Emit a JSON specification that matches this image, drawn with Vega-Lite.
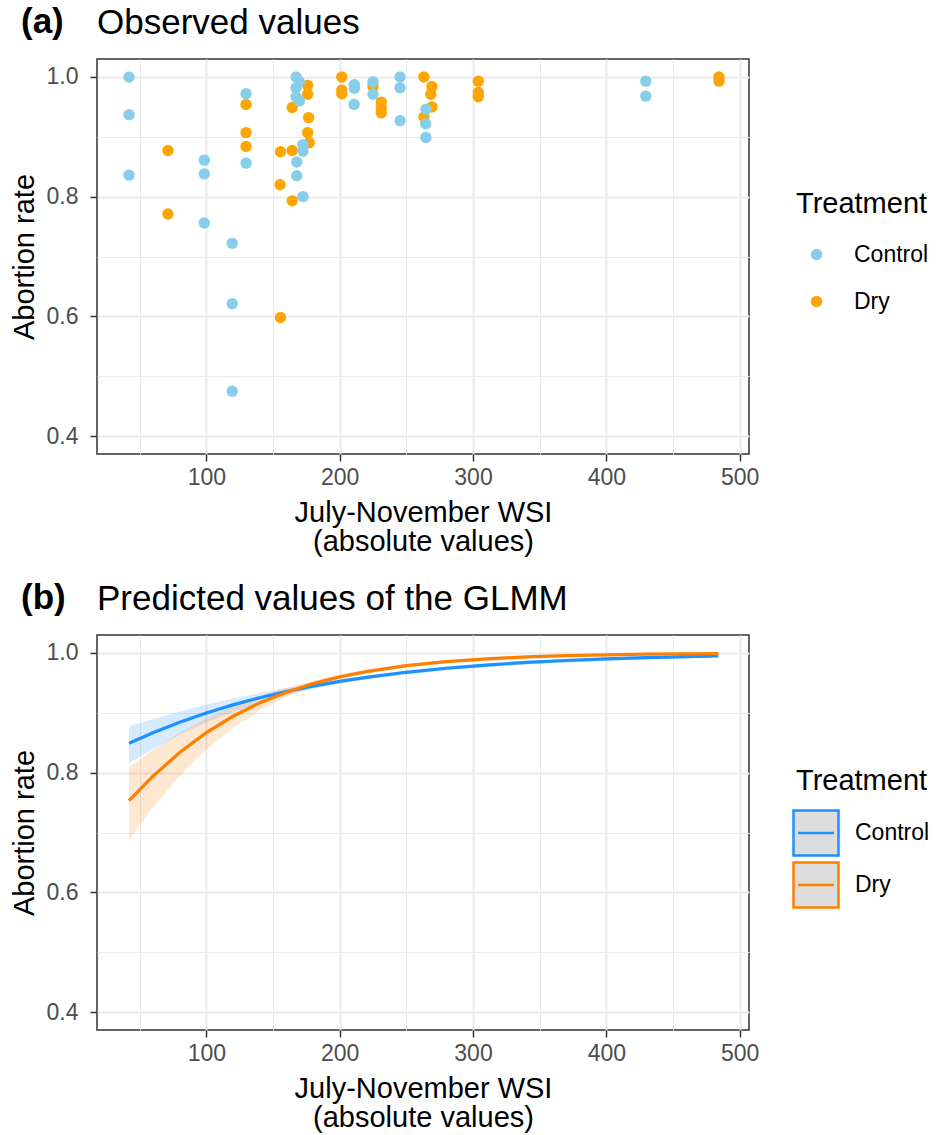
{
  "$schema": "https://vega.github.io/schema/vega-lite/v6.json",
  "padding": {"left": 9, "top": 5, "right": 5, "bottom": 5},
  "spacing": 24,
  "config": {
    "font": "Liberation Sans",
    "view": {"stroke": "#333333", "strokeWidth": 1.5},
    "axis": {
      "labelFont": "Liberation Sans",
      "labelFontSize": 23,
      "labelColor": "#4d4d4d",
      "titleFont": "Liberation Sans",
      "titleFontSize": 29,
      "titleFontWeight": "normal",
      "titleColor": "#000000",
      "tickColor": "#333333",
      "tickSize": 7,
      "tickWidth": 1.5,
      "domain": false,
      "gridColor": "#ebebeb",
      "labelFlush": false
    },
    "legend": {
      "titleFont": "Liberation Sans",
      "titleFontSize": 29,
      "titleFontWeight": "normal",
      "titleColor": "#000000",
      "labelFont": "Liberation Sans",
      "labelFontSize": 23,
      "labelColor": "#000000"
    },
    "title": {
      "font": "Liberation Sans",
      "fontSize": 35,
      "color": "#000000",
      "anchor": "start",
      "frame": "group"
    }
  },
  "resolve": {"scale": {"color": "independent"}, "legend": {"color": "independent"}},
  "vconcat": [
    {
      "title": {"text": "(a)", "fontWeight": "bold", "dx": -76, "offset": -35},
      "vconcat": [
        {
          "title": {"text": "Observed values", "fontWeight": "normal", "dx": 0, "offset": 18},
          "width": 652,
          "height": 395,
          "data": {"values": [
            {"wsi": 71.2, "rate": 0.877, "treatment": "Dry"},
            {"wsi": 71.2, "rate": 0.771, "treatment": "Dry"},
            {"wsi": 129.8, "rate": 0.954, "treatment": "Dry"},
            {"wsi": 129.8, "rate": 0.907, "treatment": "Dry"},
            {"wsi": 129.8, "rate": 0.884, "treatment": "Dry"},
            {"wsi": 155.6, "rate": 0.875, "treatment": "Dry"},
            {"wsi": 155.3, "rate": 0.82, "treatment": "Dry"},
            {"wsi": 155.6, "rate": 0.598, "treatment": "Dry"},
            {"wsi": 164.4, "rate": 0.949, "treatment": "Dry"},
            {"wsi": 164.4, "rate": 0.877, "treatment": "Dry"},
            {"wsi": 164.4, "rate": 0.793, "treatment": "Dry"},
            {"wsi": 176, "rate": 0.986, "treatment": "Dry"},
            {"wsi": 176, "rate": 0.971, "treatment": "Dry"},
            {"wsi": 176.7, "rate": 0.932, "treatment": "Dry"},
            {"wsi": 176, "rate": 0.907, "treatment": "Dry"},
            {"wsi": 177.2, "rate": 0.89, "treatment": "Dry"},
            {"wsi": 201.6, "rate": 1.0, "treatment": "Dry"},
            {"wsi": 201.6, "rate": 0.978, "treatment": "Dry"},
            {"wsi": 201.6, "rate": 0.972, "treatment": "Dry"},
            {"wsi": 225, "rate": 0.984, "treatment": "Dry"},
            {"wsi": 231.2, "rate": 0.958, "treatment": "Dry"},
            {"wsi": 231.2, "rate": 0.948, "treatment": "Dry"},
            {"wsi": 231.2, "rate": 0.94, "treatment": "Dry"},
            {"wsi": 263.2, "rate": 1.0, "treatment": "Dry"},
            {"wsi": 269.2, "rate": 0.984, "treatment": "Dry"},
            {"wsi": 268.4, "rate": 0.971, "treatment": "Dry"},
            {"wsi": 269.2, "rate": 0.95, "treatment": "Dry"},
            {"wsi": 263.2, "rate": 0.933, "treatment": "Dry"},
            {"wsi": 304, "rate": 0.993, "treatment": "Dry"},
            {"wsi": 304, "rate": 0.974, "treatment": "Dry"},
            {"wsi": 304, "rate": 0.967, "treatment": "Dry"},
            {"wsi": 484.5, "rate": 1.0, "treatment": "Dry"},
            {"wsi": 484.5, "rate": 0.993, "treatment": "Dry"},
            {"wsi": 42, "rate": 1.0, "treatment": "Control"},
            {"wsi": 42, "rate": 0.937, "treatment": "Control"},
            {"wsi": 42, "rate": 0.836, "treatment": "Control"},
            {"wsi": 98.5, "rate": 0.861, "treatment": "Control"},
            {"wsi": 98.5, "rate": 0.838, "treatment": "Control"},
            {"wsi": 98.5, "rate": 0.756, "treatment": "Control"},
            {"wsi": 119.4, "rate": 0.722, "treatment": "Control"},
            {"wsi": 119.4, "rate": 0.621, "treatment": "Control"},
            {"wsi": 119.4, "rate": 0.475, "treatment": "Control"},
            {"wsi": 129.8, "rate": 0.972, "treatment": "Control"},
            {"wsi": 129.8, "rate": 0.856, "treatment": "Control"},
            {"wsi": 167.3, "rate": 1.0, "treatment": "Control"},
            {"wsi": 169.8, "rate": 0.992, "treatment": "Control"},
            {"wsi": 167.3, "rate": 0.982, "treatment": "Control"},
            {"wsi": 167.3, "rate": 0.967, "treatment": "Control"},
            {"wsi": 169.8, "rate": 0.96, "treatment": "Control"},
            {"wsi": 167.8, "rate": 0.858, "treatment": "Control"},
            {"wsi": 167.8, "rate": 0.835, "treatment": "Control"},
            {"wsi": 172.5, "rate": 0.887, "treatment": "Control"},
            {"wsi": 172.5, "rate": 0.876, "treatment": "Control"},
            {"wsi": 172.5, "rate": 0.8, "treatment": "Control"},
            {"wsi": 211, "rate": 0.987, "treatment": "Control"},
            {"wsi": 211, "rate": 0.981, "treatment": "Control"},
            {"wsi": 210.8, "rate": 0.954, "treatment": "Control"},
            {"wsi": 225, "rate": 0.992, "treatment": "Control"},
            {"wsi": 225, "rate": 0.971, "treatment": "Control"},
            {"wsi": 245.3, "rate": 1.0, "treatment": "Control"},
            {"wsi": 245.3, "rate": 0.982, "treatment": "Control"},
            {"wsi": 245.3, "rate": 0.927, "treatment": "Control"},
            {"wsi": 264.7, "rate": 0.946, "treatment": "Control"},
            {"wsi": 264.5, "rate": 0.922, "treatment": "Control"},
            {"wsi": 264.7, "rate": 0.899, "treatment": "Control"},
            {"wsi": 429.6, "rate": 0.993, "treatment": "Control"},
            {"wsi": 429.6, "rate": 0.968, "treatment": "Control"}
          ]},
          "mark": {"type": "point", "filled": true, "size": 130, "opacity": 1},
          "encoding": {
            "x": {
              "field": "wsi", "type": "quantitative",
              "scale": {"domain": [18, 507], "nice": false, "zero": false},
              "axis": {
                "values": [50, 100, 150, 200, 250, 300, 350, 400, 450, 500],
                "labelExpr": "datum.value % 100 == 0 ? datum.label : ''",
                "gridWidth": {"condition": {"test": "datum.value % 100 == 0", "value": 2}, "value": 1},
                "tickOpacity": {"condition": {"test": "datum.value % 100 == 0", "value": 1}, "value": 0},
                "title": ["July-November WSI", "(absolute values)"],
                "titleLineHeight": 29,
                "labelPadding": 5,
                "titlePadding": 9
              }
            },
            "y": {
              "field": "rate", "type": "quantitative",
              "scale": {"domain": [0.37, 1.03], "nice": false, "zero": false},
              "axis": {
                "values": [0.4, 0.5, 0.6, 0.7, 0.8, 0.9, 1.0],
                "format": ".1f",
                "labelExpr": "round(datum.value * 10) % 2 == 1 ? '' : datum.label",
                "gridWidth": {"condition": {"test": "round(datum.value * 10) % 2 == 1", "value": 1}, "value": 2},
                "tickOpacity": {"condition": {"test": "round(datum.value * 10) % 2 == 1", "value": 0}, "value": 1},
                "title": "Abortion rate",
                "labelPadding": 12,
                "titlePadding": 7
              }
            },
            "color": {
              "field": "treatment", "type": "nominal",
              "scale": {"domain": ["Control", "Dry"], "range": ["#87CEEB", "#FFA500"]},
              "legend": {
                "title": "Treatment",
                "orient": "none",
                "legendX": 699,
                "legendY": 131,
                "symbolType": "circle",
                "symbolSize": 130,
                "rowPadding": 23,
                "titlePadding": 24,
                "symbolOffset": 9,
                "labelOffset": 26
              }
            }
          }
        }
      ]
    },
    {
      "title": {"text": "(b)", "fontWeight": "bold", "dx": -76, "offset": -35},
      "vconcat": [
        {
          "title": {"text": "Predicted values of the GLMM", "fontWeight": "normal", "dx": 0, "offset": 18},
          "width": 652,
          "height": 395,
          "data": {"values": [
            {"wsi": 42, "fit": 0.8491, "lo": 0.8156, "hi": 0.8773, "treatment": "Control"},
            {"wsi": 60, "fit": 0.8667, "lo": 0.8397, "hi": 0.8897, "treatment": "Control"},
            {"wsi": 80, "fit": 0.8842, "lo": 0.8633, "hi": 0.9022, "treatment": "Control"},
            {"wsi": 100, "fit": 0.8996, "lo": 0.8838, "hi": 0.9135, "treatment": "Control"},
            {"wsi": 120, "fit": 0.9132, "lo": 0.9015, "hi": 0.9237, "treatment": "Control"},
            {"wsi": 140, "fit": 0.9252, "lo": 0.9166, "hi": 0.9329, "treatment": "Control"},
            {"wsi": 160, "fit": 0.9356, "lo": 0.9294, "hi": 0.9413, "treatment": "Control"},
            {"wsi": 180, "fit": 0.9446, "lo": 0.94, "hi": 0.9488, "treatment": "Control"},
            {"wsi": 200, "fit": 0.9525, "lo": 0.9487, "hi": 0.9559, "treatment": "Control"},
            {"wsi": 220, "fit": 0.9592, "lo": 0.9558, "hi": 0.9625, "treatment": "Control"},
            {"wsi": 250, "fit": 0.9677, "lo": 0.9641, "hi": 0.9709, "treatment": "Control"},
            {"wsi": 280, "fit": 0.9744, "lo": 0.9707, "hi": 0.9777, "treatment": "Control"},
            {"wsi": 310, "fit": 0.9798, "lo": 0.976, "hi": 0.983, "treatment": "Control"},
            {"wsi": 340, "fit": 0.9841, "lo": 0.9803, "hi": 0.9871, "treatment": "Control"},
            {"wsi": 370, "fit": 0.9874, "lo": 0.9838, "hi": 0.9902, "treatment": "Control"},
            {"wsi": 400, "fit": 0.9901, "lo": 0.9867, "hi": 0.9926, "treatment": "Control"},
            {"wsi": 430, "fit": 0.9922, "lo": 0.9891, "hi": 0.9944, "treatment": "Control"},
            {"wsi": 460, "fit": 0.9939, "lo": 0.991, "hi": 0.9958, "treatment": "Control"},
            {"wsi": 484, "fit": 0.9949, "lo": 0.9924, "hi": 0.9966, "treatment": "Control"},
            {"wsi": 42, "fit": 0.7532, "lo": 0.6869, "hi": 0.8093, "treatment": "Dry"},
            {"wsi": 60, "fit": 0.7942, "lo": 0.7417, "hi": 0.8384, "treatment": "Dry"},
            {"wsi": 80, "fit": 0.8337, "lo": 0.7946, "hi": 0.8666, "treatment": "Dry"},
            {"wsi": 100, "fit": 0.8668, "lo": 0.8389, "hi": 0.8905, "treatment": "Dry"},
            {"wsi": 120, "fit": 0.8942, "lo": 0.875, "hi": 0.9107, "treatment": "Dry"},
            {"wsi": 140, "fit": 0.9165, "lo": 0.9038, "hi": 0.9277, "treatment": "Dry"},
            {"wsi": 160, "fit": 0.9344, "lo": 0.9261, "hi": 0.9418, "treatment": "Dry"},
            {"wsi": 180, "fit": 0.9488, "lo": 0.9432, "hi": 0.9537, "treatment": "Dry"},
            {"wsi": 200, "fit": 0.9601, "lo": 0.956, "hi": 0.9637, "treatment": "Dry"},
            {"wsi": 220, "fit": 0.9689, "lo": 0.9655, "hi": 0.972, "treatment": "Dry"},
            {"wsi": 250, "fit": 0.9788, "lo": 0.9756, "hi": 0.9815, "treatment": "Dry"},
            {"wsi": 280, "fit": 0.9856, "lo": 0.9826, "hi": 0.988, "treatment": "Dry"},
            {"wsi": 310, "fit": 0.9902, "lo": 0.9876, "hi": 0.9923, "treatment": "Dry"},
            {"wsi": 340, "fit": 0.9934, "lo": 0.9911, "hi": 0.9951, "treatment": "Dry"},
            {"wsi": 370, "fit": 0.9955, "lo": 0.9936, "hi": 0.9968, "treatment": "Dry"},
            {"wsi": 400, "fit": 0.9969, "lo": 0.9954, "hi": 0.998, "treatment": "Dry"},
            {"wsi": 430, "fit": 0.9979, "lo": 0.9967, "hi": 0.9987, "treatment": "Dry"},
            {"wsi": 460, "fit": 0.9986, "lo": 0.9976, "hi": 0.9992, "treatment": "Dry"},
            {"wsi": 484, "fit": 0.999, "lo": 0.9982, "hi": 0.9994, "treatment": "Dry"}
          ]},
          "encoding": {
            "x": {
              "field": "wsi", "type": "quantitative",
              "scale": {"domain": [18, 507], "nice": false, "zero": false},
              "axis": {
                "values": [50, 100, 150, 200, 250, 300, 350, 400, 450, 500],
                "labelExpr": "datum.value % 100 == 0 ? datum.label : ''",
                "gridWidth": {"condition": {"test": "datum.value % 100 == 0", "value": 2}, "value": 1},
                "tickOpacity": {"condition": {"test": "datum.value % 100 == 0", "value": 1}, "value": 0},
                "title": ["July-November WSI", "(absolute values)"],
                "titleLineHeight": 29,
                "labelPadding": 5,
                "titlePadding": 9
              }
            }
          },
          "layer": [
            {
              "mark": {"type": "area", "fillOpacity": 0.18},
              "encoding": {
                "y": {
                  "field": "lo", "type": "quantitative",
                  "scale": {"domain": [0.37, 1.03], "nice": false, "zero": false},
                  "axis": {
                    "values": [0.4, 0.5, 0.6, 0.7, 0.8, 0.9, 1.0],
                    "format": ".1f",
                    "labelExpr": "round(datum.value * 10) % 2 == 1 ? '' : datum.label",
                    "gridWidth": {"condition": {"test": "round(datum.value * 10) % 2 == 1", "value": 1}, "value": 2},
                    "tickOpacity": {"condition": {"test": "round(datum.value * 10) % 2 == 1", "value": 0}, "value": 1},
                    "title": "Abortion rate",
                    "labelPadding": 12,
                    "titlePadding": 7
                  }
                },
                "y2": {"field": "hi"},
                "fill": {
                  "field": "treatment", "type": "nominal",
                  "scale": {"domain": ["Control", "Dry"], "range": ["#1E90FF", "#FF7F00"]},
                  "legend": null
                }
              }
            },
            {
              "mark": {"type": "line", "strokeWidth": 3.2},
              "encoding": {
                "y": {"field": "fit", "type": "quantitative"},
                "color": {
                  "field": "treatment", "type": "nominal",
                  "scale": {"domain": ["Control", "Dry"], "range": ["#1E90FF", "#FF7F00"]},
                  "legend": {
                    "title": "Treatment",
                    "orient": "none",
                    "legendX": 699,
                    "legendY": 132,
                    "symbolType": "M-1,-1H1V1H-1ZM-0.8,0H0.8",
                    "symbolSize": 2025,
                    "symbolFillColor": "#dddddd",
                    "symbolStrokeWidth": 2.5,
                    "symbolOpacity": 1,
                    "rowPadding": -15,
                    "titlePadding": 13,
                    "symbolOffset": -4,
                    "labelOffset": 15
                  }
                }
              }
            }
          ]
        }
      ]
    }
  ]
}
